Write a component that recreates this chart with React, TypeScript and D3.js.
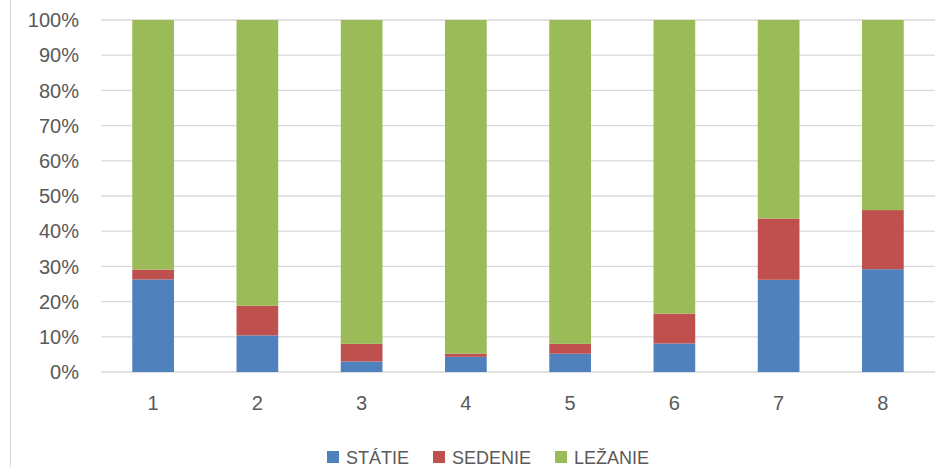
import React, { useEffect, useRef } from 'react';
import * as d3 from 'd3';

const categories = ['1', '2', '3', '4', '5', '6', '7', '8'];
const seriesNames = ['STÁTIE', 'SEDENIE', 'LEŽANIE'];
// shares in %
const statie = [26.3, 10.4, 3.0, 4.3, 5.2, 8.1, 26.2, 29.2];
const sedenie = [2.8, 8.4, 5.0, 0.9, 2.8, 8.5, 17.4, 16.8];
const lezanie = statie.map((v, i) => 100 - v - sedenie[i]);
const yTicks = [0, 10, 20, 30, 40, 50, 60, 70, 80, 90, 100];
const colors = ['#4F81BD', '#C0504D', '#9BBB59'];

const App = () => {
  const svgRef = useRef(null);

  useEffect(() => {
    const width = 946;
    const height = 467;
    const margin = { top: 20, right: 11, bottom: 95, left: 101 };
    const font = '"Liberation Sans", Arial, sans-serif';
    const textColor = '#595959';

    const svg = d3.select(svgRef.current);
    svg.selectAll('*').remove();

    // chart border, left side
    svg.append('line')
      .attr('x1', 10.5).attr('x2', 10.5)
      .attr('y1', 0).attr('y2', height)
      .attr('stroke', '#d9d9d9')
      .attr('stroke-width', 1);

    const x = d3.scaleBand()
      .domain(categories)
      .range([margin.left, width - margin.right]);

    const y = d3.scaleLinear()
      .domain([0, 100])
      .range([height - margin.bottom, margin.top]);

    // gridlines
    svg.append('g')
      .selectAll('line')
      .data(yTicks)
      .enter()
      .append('line')
      .attr('x1', margin.left)
      .attr('x2', width - margin.right)
      .attr('y1', d => y(d))
      .attr('y2', d => y(d))
      .attr('stroke', '#d9d9d9')
      .attr('stroke-width', 1.3);

    // y tick labels
    svg.append('g')
      .selectAll('text')
      .data(yTicks)
      .enter()
      .append('text')
      .attr('x', 79)
      .attr('y', d => y(d))
      .attr('dy', '0.36em')
      .attr('text-anchor', 'end')
      .attr('font-family', font)
      .attr('font-size', 20)
      .attr('fill', textColor)
      .text(d => `${d}%`);

    // stacked bars
    const rows = categories.map((c, i) => ({ cat: c, s0: statie[i], s1: sedenie[i], s2: lezanie[i] }));
    const stack = d3.stack().keys(['s0', 's1', 's2']);
    const layers = stack(rows);
    const barW = x.bandwidth() / 2.5;

    svg.append('g')
      .selectAll('g')
      .data(layers)
      .enter()
      .append('g')
      .attr('fill', (d, i) => colors[i])
      .selectAll('rect')
      .data(d => d)
      .enter()
      .append('rect')
      .attr('x', d => x(d.data.cat) + (x.bandwidth() - barW) / 2)
      .attr('y', d => y(d[1]))
      .attr('width', barW)
      .attr('height', d => y(d[0]) - y(d[1]));

    // x labels
    svg.append('g')
      .selectAll('text')
      .data(categories)
      .enter()
      .append('text')
      .attr('x', d => x(d) + x.bandwidth() / 2)
      .attr('y', 410)
      .attr('text-anchor', 'middle')
      .attr('font-family', font)
      .attr('font-size', 20)
      .attr('fill', textColor)
      .text(d => d);

    // legend
    const legend = svg.append('g');
    let lx = 327;
    seriesNames.forEach((name, i) => {
      legend.append('rect')
        .attr('x', lx)
        .attr('y', 451)
        .attr('width', 12)
        .attr('height', 12)
        .attr('fill', colors[i]);
      const t = legend.append('text')
        .attr('x', lx + 19)
        .attr('y', 463.5)
        .attr('font-family', font)
        .attr('font-size', 18)
        .attr('fill', textColor)
        .text(name);
      const w = t.node().getComputedTextLength();
      lx += 19 + w + 24;
    });
  }, []);

  return (
    <svg
      ref={svgRef}
      width={946}
      height={467}
      style={{ position: 'absolute', left: 0, top: 0, background: '#fff' }}
    />
  );
};

export default App;
